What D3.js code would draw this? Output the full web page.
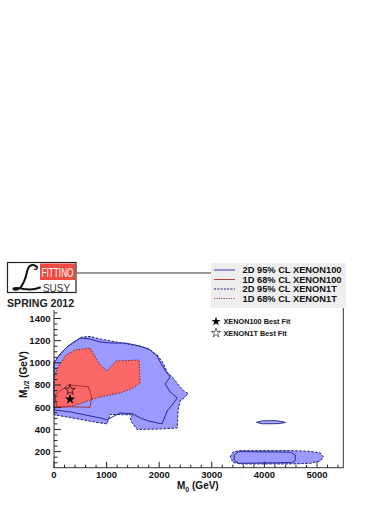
<!DOCTYPE html>
<html>
<head>
<meta charset="utf-8">
<script src="https://d3js.org/d3.v7.min.js"></script>
<style>
  body { margin: 0; background: #fff; }
  svg { font-family: "Liberation Sans", Arial, sans-serif; }
  .tick-label { font-size: 9.5px; font-weight: bold; fill: #111; }
</style>
</head>
<body>
<div id="chart"></div>
<script>
// Contours, [M0, M1/2] in GeV
const x1t95 = [[0,1008],[76,1053],[247,1143],[438,1206],[533,1233],[685,1238],[875,1215],[1123,1193],
  [1504,1161],[1770,1134],[1960,1071],[2075,999],[2151,918],[2265,864],[2398,783],[2493,738],[2550,724],
  [2474,684],[2398,657],[2360,576],[2341,413],[2017,404],[1580,400],[1485,459],[1447,504],[1504,531],
  [1066,535],[1009,450],[875,459],[552,486],[247,513],[0,531]];
const x1t95IslandA = [[3350,152],[3407,197],[3540,209],[4492,209],[4872,202],[5063,188],[5120,152],
  [5063,116],[4872,94],[4492,89],[3540,89],[3407,103]];
const x1t68 = [[0,873],[76,963],[228,1071],[400,1116],[685,1134],[875,981],[1009,927],[1180,1017],
  [1618,1026],[1637,819],[1504,774],[1256,729],[875,693],[685,666],[495,630],[266,603],[0,594]];

const x100_95 = [[0,999],[114,1080],[266,1152],[495,1224],[685,1215],[875,1188],[1066,1179],[1351,1179],
  [1637,1152],[1827,1116],[1960,1062],[2037,990],[2132,918],[2208,873],[2113,810],[2208,738],[2341,684],
  [2246,621],[2151,567],[2056,450],[1789,477],[1637,504],[1504,540],[1256,549],[1009,486],[875,504],
  [590,531],[305,558],[0,576]];
const x100_95IslandA = [[3426,170],[3508,200],[4492,195],[4587,170],[4587,119],[4524,101],[3508,95],[3426,125]];
const x100_95IslandB = [[3850,464],[3959,477],[4206,479],[4359,469],[4400,462],[4263,452],[3959,451]];
const x100_68 = [[19,711],[272,801],[653,786],[718,695],[685,600],[241,605],[51,600]];

const bestFit100 = [305, 672];
const bestFit1T = [305, 756];

const xTicks = [0, 1000, 2000, 3000, 4000, 5000];
const yTicks = [200, 400, 600, 800, 1000, 1200, 1400];

const legendLabels = ["2D 95% CL XENON100", "1D 68% CL XENON100", "2D 95% CL XENON1T", "1D 68% CL XENON1T"];
const starLabels = ["XENON100 Best Fit", "XENON1T Best Fit"];

const W = 390, H = 505;
const svg = d3.select("#chart").append("svg").attr("width", W).attr("height", H);

const x = d3.scaleLinear().domain([0, 5500]).range([54, 343.3]);
const y = d3.scaleLinear().domain([55, 1810]).range([467.7, 273]);

const line = d3.line().x(d => x(d[0])).y(d => y(d[1])).curve(d3.curveLinearClosed);

const blueFill = "#9a9aff", redFill = "#fb6868";
const blueLine = "#2a2a9a", redLine = "#a83030";
const blueDash = "#1c1c70", redDot = "#7a2030";

// contour fills (XENON1T)
const plot = svg.append("g");
[x1t95, x1t95IslandA].forEach(p => {
  plot.append("path").attr("d", line(p)).attr("fill", blueFill)
    .attr("stroke", blueDash).attr("stroke-width", 1).attr("stroke-dasharray", "2.5,1.5");
});
plot.append("path").attr("d", line(x100_95IslandB)).attr("fill", "#aab0ff")
  .attr("stroke", blueLine).attr("stroke-width", 1);
plot.append("path").attr("d", line(x1t68)).attr("fill", redFill)
  .attr("stroke", redDot).attr("stroke-width", 1).attr("stroke-dasharray", "1.5,1.5");

// XENON100 lines
[x100_95, x100_95IslandA].forEach(p => {
  plot.append("path").attr("d", line(p)).attr("fill", "none")
    .attr("stroke", blueLine).attr("stroke-width", 1);
});
plot.append("path").attr("d", line(x100_68)).attr("fill", "none")
  .attr("stroke", redLine).attr("stroke-width", 1);

// best fit stars
const star = d3.symbol().type(d3.symbolStar);
plot.append("path").attr("d", star.size(34)())
  .attr("transform", `translate(${x(bestFit100[0])},${y(bestFit100[1])})`).attr("fill", "#000");
plot.append("path").attr("d", star.size(34)())
  .attr("transform", `translate(${x(bestFit1T[0])},${y(bestFit1T[1])})`)
  .attr("fill", "none").attr("stroke", "#000").attr("stroke-width", 0.7);

// frame
svg.append("rect").attr("x", x(0)).attr("y", y(1810))
  .attr("width", x(5500) - x(0)).attr("height", y(55) - y(1810))
  .attr("fill", "none").attr("stroke", "#333").attr("stroke-width", 1);

// x axis ticks
const xMinor = d3.range(0, 5501, 200);
svg.append("g").selectAll("line").data(xMinor).join("line")
  .attr("x1", d => x(d)).attr("x2", d => x(d))
  .attr("y1", y(55)).attr("y2", d => y(55) - (d % 1000 === 0 ? 6 : 3))
  .attr("stroke", "#222").attr("stroke-width", 1);
svg.append("g").selectAll("text").data(xTicks).join("text")
  .attr("class", "tick-label").attr("x", d => x(d)).attr("y", 478)
  .attr("text-anchor", "middle").text(d => d);

// y axis ticks
const yMinor = d3.range(100, 1801, 50);
svg.append("g").selectAll("line").data(yMinor).join("line")
  .attr("x1", x(0)).attr("x2", d => x(0) + (d % 200 === 0 ? 7 : 3.5))
  .attr("y1", d => y(d)).attr("y2", d => y(d))
  .attr("stroke", "#222").attr("stroke-width", 1);
svg.append("g").selectAll("text").data(yTicks).join("text")
  .attr("class", "tick-label").attr("x", 50.5).attr("y", d => y(d) + 3.4)
  .attr("text-anchor", "end").text(d => d);

// axis titles
const xt = svg.append("text").attr("x", 177).attr("y", 489)
  .attr("font-size", 10).attr("font-weight", "bold").attr("fill", "#111");
xt.append("tspan").text("M");
xt.append("tspan").attr("font-size", 7).attr("dy", 2.5).text("0");
xt.append("tspan").attr("dy", -2.5).text(" (GeV)");

const yt = svg.append("text").attr("transform", "translate(26.5,398) rotate(-90)")
  .attr("font-size", 10).attr("font-weight", "bold").attr("fill", "#111");
yt.append("tspan").text("M");
yt.append("tspan").attr("font-size", 6.5).attr("dy", 2.5).text("1/2");
yt.append("tspan").attr("dy", -2.5).text(" (GeV)");

// logo
const logo = svg.append("g");
logo.append("rect").attr("x", 0).attr("y", 256).attr("width", 77).attr("height", 54).attr("fill", "#fff");
logo.append("rect").attr("x", 7.5).attr("y", 262.5).attr("width", 68.5).attr("height", 30)
  .attr("fill", "#fff").attr("stroke", "#222").attr("stroke-width", 1.2);
logo.append("rect").attr("x", 40).attr("y", 263.5).attr("width", 35).attr("height", 16.5).attr("fill", "#f04a40");
logo.append("text").attr("x", 41.5).attr("y", 277).attr("font-size", 12.5).attr("fill", "#fff")
  .attr("font-family", "Liberation Sans Narrow, Liberation Sans").attr("textLength", 32)
  .attr("lengthAdjust", "spacingAndGlyphs").text("FITTINO");
logo.append("text").attr("x", 43).attr("y", 291.5).attr("font-size", 10.5).attr("fill", "#333")
  .attr("textLength", 27).attr("lengthAdjust", "spacingAndGlyphs").text("SUSY");
// script L
logo.append("path")
  .attr("d", "M37,267 C33,263.5 29,265 27.5,270 C26,276 25,283 20,288 C17,290.5 13,290 13.5,288.5 C15,287 19,288 24,289 C30,290 35,289.5 40,287.5")
  .attr("fill", "none").attr("stroke", "#111").attr("stroke-width", 2).attr("stroke-linecap", "round");
logo.append("path").attr("d", "M37,267 C38,268.5 36,270 34,269")
  .attr("fill", "none").attr("stroke", "#111").attr("stroke-width", 1.3);
logo.append("text").attr("x", 7).attr("y", 307).attr("font-size", 10.6).attr("font-weight", "bold")
  .attr("fill", "#222").text("SPRING 2012");

// legend
const leg = svg.append("g");
leg.append("rect").attr("x", 211).attr("y", 263).attr("width", 135).attr("height", 45).attr("fill", "#eeeeee");
const legStyle = [
  { c: "#3a3aa0", dash: null },
  { c: "#c03a3a", dash: null },
  { c: blueDash, dash: "2,1.3" },
  { c: "#a04050", dash: "1.2,1.2" }
];
legendLabels.forEach((t, i) => {
  const yy = 270 + i * 9.5;
  leg.append("line").attr("x1", 214).attr("x2", 235).attr("y1", yy).attr("y2", yy)
    .attr("stroke", legStyle[i].c).attr("stroke-width", 1)
    .attr("stroke-dasharray", legStyle[i].dash);
  leg.append("text").attr("x", 242.5).attr("y", yy + 3.3).attr("font-size", 9.3)
    .attr("font-weight", "bold").attr("fill", "#111").text(t);
});

// best fit legend
starLabels.forEach((t, i) => {
  const yy = 321.5 + i * 11.5;
  const s = leg.append("path").attr("d", star.size(26)()).attr("transform", `translate(216,${yy})`);
  if (i === 0) s.attr("fill", "#000");
  else s.attr("fill", "none").attr("stroke", "#000").attr("stroke-width", 0.6);
  leg.append("text").attr("x", 223.5).attr("y", yy + 2.6).attr("font-size", 7.3)
    .attr("font-weight", "bold").attr("fill", "#111").text(t);
});
</script>
</body>
</html>
